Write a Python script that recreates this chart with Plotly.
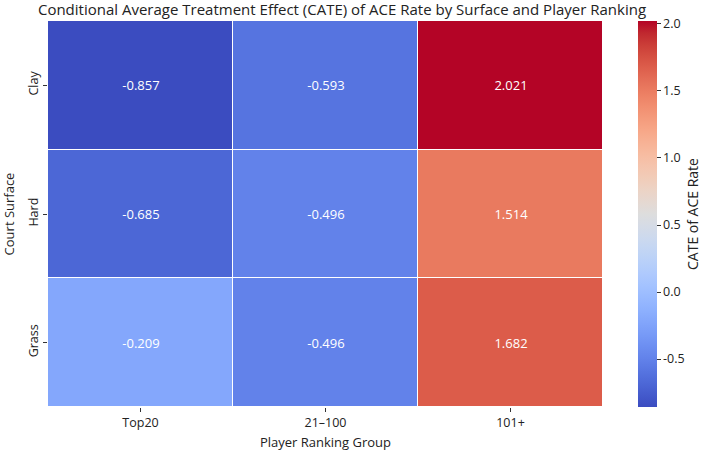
import plotly.graph_objects as go

surfaces = ["Clay", "Hard", "Grass"]
ranking_groups = ["Top20", "21–100", "101+"]
cate_top20 = [-0.857, -0.685, -0.209]
cate_21_100 = [-0.593, -0.496, -0.496]
cate_101_plus = [2.021, 1.514, 1.682]
cbar_ticks = [-0.5, 0.0, 0.5, 1.0, 1.5, 2.0]

z = [[cate_top20[i], cate_21_100[i], cate_101_plus[i]] for i in range(len(surfaces))]

cw = [
    (59,76,192),(68,90,204),(77,104,215),(87,117,225),(98,130,234),(108,142,241),
    (119,154,247),(130,165,251),(141,176,254),(152,185,255),(163,194,255),(174,201,253),
    (184,208,249),(194,213,244),(204,217,238),(213,219,230),(221,221,221),(229,216,209),
    (236,211,197),(241,204,184),(245,196,173),(247,187,160),(247,177,148),(247,166,135),
    (244,154,123),(241,141,111),(236,127,99),(229,112,89),(222,96,77),(213,80,66),
    (203,62,56),(192,40,47),(180,4,38)]
colorscale = [[i/(len(cw)-1), "rgb(%d,%d,%d)" % c] for i, c in enumerate(cw)]

FONT = "Open Sans"
W, H = 707, 453
L, R, T, B = 48, 0, 21, 46
pw = W - L - R

fig = go.Figure(go.Heatmap(
    z=z, x=ranking_groups, y=surfaces,
    colorscale=colorscale, zmin=min(min(r) for r in z), zmax=max(max(r) for r in z),
    xgap=1, ygap=1,
    texttemplate="%{z:.3f}", textfont=dict(color="white", size=13, family=FONT),
    hoverinfo="skip",
    colorbar=dict(
        x=(638 - L) / pw, xanchor="left", xref="paper", xpad=0, ypad=0,
        thickness=19, len=1, lenmode="fraction", y=0.5, yanchor="middle",
        outlinewidth=0, ticks="outside", ticklen=4, tickwidth=1, tickcolor="#333",
        tickvals=cbar_ticks, ticktext=["%.1f" % v for v in cbar_ticks],
        tickfont=dict(size=12.5, family=FONT, color="#222"),
        title=dict(text="CATE of ACE Rate", side="right", font=dict(size=14, family=FONT, color="#222")),
    ),
))

fig.update_layout(
    width=W, height=H,
    margin=dict(l=L, r=R, t=T, b=B),
    paper_bgcolor="white", plot_bgcolor="white",
    font=dict(family=FONT, color="#222"),
    title=dict(text="Conditional Average Treatment Effect (CATE) of ACE Rate by Surface and Player Ranking",
               xref="container", x=342 / W, xanchor="center",
               yref="container", y=1 - 10 / H, yanchor="middle",
               font=dict(size=15, family=FONT, color="#222")),
    xaxis=dict(domain=[0, (603 - L) / pw], showgrid=False, zeroline=False,
               ticks="outside", ticklen=4, tickcolor="#333",
               tickfont=dict(size=12.5, family=FONT),
               title=dict(text="Player Ranking Group", font=dict(size=13, family=FONT), standoff=7)),
    yaxis=dict(autorange="reversed", showgrid=False, zeroline=False,
               ticks="outside", ticklen=4, tickcolor="#333", tickangle=-90,
               tickfont=dict(size=12.5, family=FONT),
               title=dict(text="Court Surface", font=dict(size=13, family=FONT), standoff=7)),
)

fig.write_html("out.html")
